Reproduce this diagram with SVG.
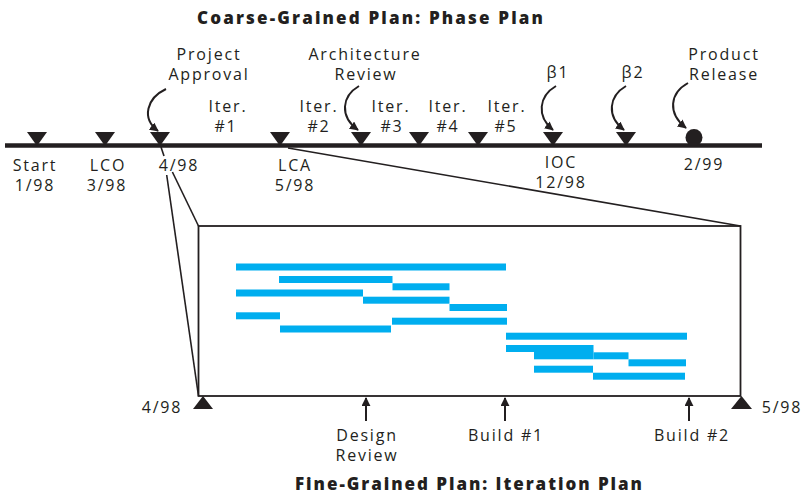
<svg xmlns="http://www.w3.org/2000/svg" width="804" height="495" viewBox="0 0 804 495">
  <defs>
    <style>
      .lbl { font-family: "Open Sans", "Liberation Sans", sans-serif; font-size: 16px; fill: #231f20; letter-spacing: 1.8px; text-anchor: middle; }
      .ttl { font-family: "Open Sans", "Liberation Sans", sans-serif; font-size: 17px; font-weight: 800; fill: #231f20; }
      .ms { fill: #231f20; }
      .thin { stroke: #231f20; stroke-width: 1.6; fill: none; }
      .curve { stroke: #231f20; stroke-width: 2; fill: none; marker-end: url(#head); }
      .bar { fill: #00aeef; }
    </style>
    <marker id="head" viewBox="0 0 10 10" refX="9" refY="5" markerWidth="9" markerHeight="9" markerUnits="userSpaceOnUse" orient="auto">
      <path d="M0,0 L10,5 L0,10 z" fill="#231f20"/>
    </marker>
    <path id="tri" d="M-10,-14 L10,-14 L0,0 z"/>
  </defs>

  <rect width="804" height="495" fill="#ffffff"/>

  <!-- titles -->
  <text class="ttl" x="197" y="23.5" textLength="346" lengthAdjust="spacing">Coarse-Grained Plan: Phase Plan</text>
  <text class="ttl" x="295" y="490" textLength="347" lengthAdjust="spacing">Fine-Grained Plan: Iteration Plan</text>

  <!-- phase plan timeline -->
  <g id="timeline">
    <line x1="5" y1="145.5" x2="762" y2="145.5" stroke="#231f20" stroke-width="4.5"/>
  </g>

  <g id="start"><use href="#tri" x="37" y="146" class="ms"/><text class="lbl" x="35" y="171">Start</text><text class="lbl" x="35" y="191">1/98</text></g>
  <g id="lco"><use href="#tri" x="105" y="146" class="ms"/><text class="lbl" x="108" y="171">LCO</text><text class="lbl" x="107" y="191">3/98</text></g>
  <g id="approval"><use href="#tri" x="160" y="146" class="ms"/><text class="lbl" x="179" y="171">4/98</text><text class="lbl" x="209" y="60">Project</text><text class="lbl" x="209" y="80">Approval</text></g>
  <g id="lca"><use href="#tri" x="280" y="146" class="ms"/><text class="lbl" x="295" y="171">LCA</text><text class="lbl" x="295" y="191">5/98</text></g>
  <g id="arch-review"><use href="#tri" x="361" y="146" class="ms"/><text class="lbl" x="365" y="60">Architecture</text><text class="lbl" x="366" y="80">Review</text></g>
  <g id="m-419"><use href="#tri" x="419" y="146" class="ms"/></g>
  <g id="m-478"><use href="#tri" x="478" y="146" class="ms"/></g>
  <g id="ioc"><use href="#tri" x="553" y="146" class="ms"/><text class="lbl" x="561" y="168">IOC</text><text class="lbl" x="561" y="188">12/98</text><text class="lbl" x="558" y="78">β1</text></g>
  <g id="beta2"><use href="#tri" x="626" y="146" class="ms"/><text class="lbl" x="633" y="78">β2</text></g>
  <g id="release"><circle cx="694" cy="137.5" r="8.5" class="ms"/><text class="lbl" x="704" y="170">2/99</text><text class="lbl" x="724" y="60">Product</text><text class="lbl" x="724" y="80">Release</text></g>

  <g id="iterations">
    <text class="lbl" x="228" y="112">Iter.</text><text class="lbl" x="226" y="132">#1</text>
    <text class="lbl" x="319" y="112">Iter.</text><text class="lbl" x="319" y="132">#2</text>
    <text class="lbl" x="391" y="112">Iter.</text><text class="lbl" x="392" y="132">#3</text>
    <text class="lbl" x="448" y="112">Iter.</text><text class="lbl" x="448" y="132">#4</text>
    <text class="lbl" x="507" y="112">Iter.</text><text class="lbl" x="506" y="132">#5</text>
  </g>

  <!-- iteration plan -->
  <g id="iteration-plan">
    <rect x="198.5" y="226" width="542" height="170" fill="none" stroke="#231f20" stroke-width="1.8"/>
    <rect class="bar" x="236" y="263.5" width="270" height="7"/>
    <rect class="bar" x="279" y="276" width="113.5" height="7"/>
    <rect class="bar" x="392.5" y="283.3" width="57" height="7"/>
    <rect class="bar" x="236" y="289.5" width="127" height="7"/>
    <rect class="bar" x="363" y="296.7" width="86.5" height="7"/>
    <rect class="bar" x="449.5" y="304" width="57.5" height="7"/>
    <rect class="bar" x="236" y="312.3" width="44" height="7"/>
    <rect class="bar" x="392" y="317.7" width="115" height="7"/>
    <rect class="bar" x="280" y="325.5" width="111" height="7"/>
    <rect class="bar" x="506" y="332.7" width="181" height="7"/>
    <rect class="bar" x="506" y="345" width="87.5" height="7"/>
    <rect class="bar" x="534" y="351.7" width="59.5" height="7.6"/>
    <rect class="bar" x="593.5" y="352.3" width="35" height="7"/>
    <rect class="bar" x="628.5" y="359.3" width="57.5" height="7"/>
    <rect class="bar" x="534" y="365.7" width="59" height="7"/>
    <rect class="bar" x="593" y="372.7" width="92" height="7"/>
  </g>

  <g id="it-start"><path d="M193,409 L213,409 L203,396 z" class="ms"/><text class="lbl" x="162" y="413">4/98</text></g>
  <g id="it-end"><path d="M731,409 L752,409 L741.5,396 z" class="ms"/><text class="lbl" x="782" y="413">5/98</text></g>
  <g id="design-review"><text class="lbl" x="367" y="441">Design</text><text class="lbl" x="367" y="461">Review</text></g>
  <g id="build1"><text class="lbl" x="506" y="441">Build #1</text></g>
  <g id="build2"><text class="lbl" x="692" y="441">Build #2</text></g>

  <!-- connectors -->
  <g id="connectors">
    <path class="curve" d="M166,89 C147,98 141,118 158,131"/>
    <path class="curve" d="M359,86 C342,96 339,116 358,130"/>
    <path class="curve" d="M556,86 C539,96 536,116 553,130"/>
    <path class="curve" d="M626,86 C609,96 606,116 624,130"/>
    <path class="curve" d="M688,83 C670,93 667,113 686,128"/>
    <line class="thin" x1="161" y1="147" x2="164" y2="156"/>
    <line class="thin" x1="166.7" y1="175" x2="198.5" y2="396"/>
    <line class="thin" x1="172.4" y1="172" x2="198.5" y2="226"/>
    <line class="thin" x1="288" y1="148" x2="740.5" y2="226"/>
    <line class="curve" x1="366" y1="421" x2="366" y2="398"/>
    <line class="curve" x1="505" y1="421" x2="505" y2="398"/>
    <line class="curve" x1="689" y1="421" x2="689" y2="398"/>
  </g>
</svg>
